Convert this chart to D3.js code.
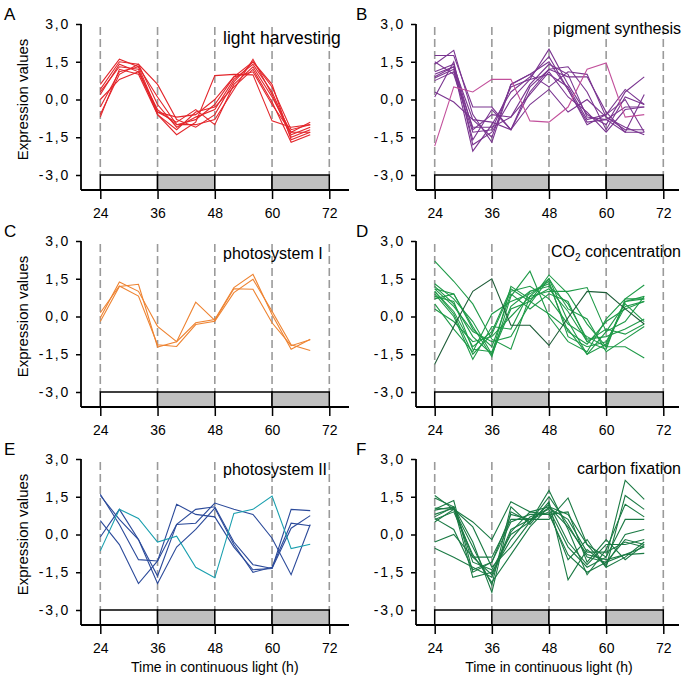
<!DOCTYPE html>
<html>
<head>
<meta charset="utf-8">
<script src="https://d3js.org/d3.v7.min.js"></script>
<style>
  body { margin: 0; background: #fff; }
  svg { font-family: "Liberation Sans", Arial, sans-serif; }
  .axis text { fill: #000; font-size: 14px; }
  .axis line { stroke: #000; stroke-width: 1.5px; }
  .y.axis text { letter-spacing: 1.8px; }
</style>
</head>
<body>
<svg width="690" height="681"></svg>
<script>
// time points (h) of the measurements
var hours = [24, 28, 32, 36, 40, 44, 48, 52, 56, 60, 64, 68];
var xTicks = [24, 36, 48, 60, 72];
var yTicks = [3, 1.5, 0, -1.5, -3];
// light / dark periods shown in the bar under each plot
var phases = [[24, 36, 'light'], [36, 48, 'dark'], [48, 60, 'light'], [60, 72, 'dark']];

// A - light harvesting
var lightHarvesting = [
  [0.6, 1.6, 1.3, 0.1, -1.0, -0.8, -0.2, 0.9, 1.5, 0.5, -1.2, -1.0],
  [0.4, 1.5, 1.4, -0.2, -1.1, -0.7, -0.4, 0.8, 1.4, 0.3, -1.4, -1.1],
  [0.2, 1.4, 1.1, -0.5, -0.9, -0.4, -1.0, 0.6, 1.3, 0.1, -1.3, -0.9],
  [-0.6, 1.0, 1.4, 0.6, -0.8, -1.1, -0.6, 0.7, 1.5, 0.6, -1.6, -1.3],
  [-0.7, 1.2, 1.0, -0.6, -1.4, -0.9, 0.95, 1.0, 0.98, -0.85, -1.1, -1.0],
  [0.3, 1.3, 1.2, -0.6, -1.2, -0.5, -0.3, 0.5, 1.2, -0.1, -1.7, -1.4],
  [0.0, 0.8, 1.1, -0.4, -1.0, -1.0, -0.8, 0.4, 1.6, 0.2, -1.5, -1.2],
  [-0.3, 1.1, 1.3, -0.5, -0.7, -0.6, 0.0, 0.9, 1.1, -0.2, -1.3, -1.3]
];
// B - pigment synthesis (last one is the pink line)
var pigmentSynthesis = [
  [1.75, 1.75, -0.3, -0.3, -1.2, 0.5, 1.2, 0.9, 0.9, -0.5, -1.3, -1.3],
  [1.5, 1.0, -1.3, -1.2, 0.5, 0.8, 2.0, 0.6, -0.6, -1.0, 0.3, 0.9],
  [1.4, 1.95, -0.6, -1.7, 0.6, 1.0, 1.5, 0.4, -0.9, -0.8, -1.3, 0.2],
  [1.0, 1.3, -1.6, -0.4, -1.2, 0.3, 1.2, 1.3, 0.3, -1.2, 0.1, -0.2],
  [0.85, 1.2, -2.05, -1.0, 0.3, 0.9, 1.7, 0.4, -1.0, -0.6, 0.0, -1.3],
  [0.75, 1.1, -1.1, -1.1, -0.7, 0.6, 1.4, 1.0, -0.7, -0.8, -0.3, -0.3],
  [0.1, 1.5, -1.8, -1.3, 0.0, 0.8, 1.0, 0.5, -0.8, -0.6, 0.4, -0.2],
  [0.3, -0.1, -0.8, -1.5, 0.6, 1.0, 0.5, 1.1, 1.0, -0.7, -1.2, -1.2],
  [1.1, 1.4, -1.2, -0.6, -0.7, 0.2, 1.1, 0.1, -0.5, -1.3, -0.4, -0.3],
  [0.9, 1.3, -0.8, -0.9, -1.2, -0.2, 0.4, -0.5, 0.0, -0.7, -1.1, -1.4],
  [-1.85, 0.5, 0.3, 0.8, 0.8, -0.85, -0.9, -0.3, 1.2, 1.45, -0.7, -0.6]
];
// C - photosystem I
var photosystemI = [
  [-0.05, 1.37, 1.0, -0.39, -1.0, 0.57, -0.15, 1.1, 1.08, -0.25, -1.16, -0.92],
  [-0.2, 1.19, 1.28, -1.21, -1.0, -0.25, -0.12, 1.15, 1.68, 0.08, -1.3, -0.9],
  [0.15, 1.21, 0.81, -1.12, -1.19, -0.32, -0.19, 0.95, 1.48, 0.21, -1.12, -1.35]
];
// D - CO2 concentration (last one is the dark line)
var co2Concentration = [
  [2.2, 1.4, 0.5, -0.9, -1.3, 0.8, 1.5, -0.2, -1.5, -1.1, 0.6, 0.8],
  [1.2, 0.5, -0.8, -1.5, 1.2, 0.7, 1.1, 0.2, -1.0, -1.3, 0.7, 1.25],
  [1.1, 0.9, -0.4, -1.6, 0.8, 1.8, 0.0, -1.0, -1.4, -0.1, 0.7, 0.7],
  [1.0, 0.2, -1.2, -0.6, 1.1, 0.6, 1.65, 0.9, -0.3, -1.2, -1.2, -1.65],
  [0.9, 0.0, -1.7, -0.4, -0.5, 1.0, 1.3, -0.6, -1.1, -0.2, 0.3, 0.6],
  [0.8, 0.6, -1.3, -1.4, 0.4, 1.0, 1.2, 0.5, -0.9, -0.8, -0.5, -0.1],
  [0.5, -0.5, -1.4, 0.1, 0.6, 0.9, 1.4, -0.8, -1.2, -1.0, 0.4, 0.6],
  [0.3, -0.2, -1.0, -0.8, 0.0, 0.8, 1.0, 1.0, 1.15, -0.6, -0.2, 0.8],
  [1.3, 0.7, -0.2, -1.5, 0.3, 0.6, 0.1, -0.5, -1.5, -0.6, 0.5, -0.2],
  [1.1, 0.4, -0.6, -1.0, -0.8, 0.5, 1.5, 0.3, -0.1, -1.4, -0.9, -0.4],
  [0.7, 0.9, -0.5, -1.2, 0.9, 0.3, 0.9, 0.6, -1.0, -0.5, -0.7, -0.3],
  [1.0, 0.1, -1.5, -0.7, 1.0, 1.2, 0.7, -0.3, -0.8, -1.2, 0.6, 0.7],
  [-1.9, -0.4, 1.0, 1.5, -0.35, -0.35, -1.15, -0.05, 1.0, 0.95, 0.3, -0.3]
];
// E - photosystem II (last one is the teal line)
var photosystemII = [
  [1.6, 0.4, -1.0, -1.05, 1.2, 0.8, 0.7, -0.5, -1.4, -1.35, 1.0, 0.95],
  [1.55, 0.6, -0.2, -1.65, 0.4, 0.45, 1.25, 1.0, 0.8, -0.15, -1.6, 0.4],
  [0.55, -0.4, -1.95, -1.05, 0.4, 1.0, 1.1, -0.3, -1.2, -1.35, 0.25, 0.75],
  [-0.1, 1.0, -0.2, -1.95, -0.5, 0.2, 1.05, -0.4, -1.5, -1.3, 0.45, 0.35],
  [-0.65, 1.0, 0.64, -0.3, -0.07, -1.3, -1.72, 0.84, 1.0, 1.53, -0.56, -0.39]
];
// F - carbon fixation
var carbonFixation = [
  [1.55, 1.0, 0.5, -0.2, 1.3, 0.9, 1.1, 0.8, -0.4, -0.9, 2.15, 1.4],
  [1.0, 1.35, -1.5, -1.1, 0.8, 0.6, 0.6, 1.45, -0.4, -1.3, 1.55, 1.0],
  [0.97, 1.1, -0.3, -2.3, 0.9, 0.5, 1.75, 0.2, -1.6, -0.6, 1.2, 0.7],
  [0.7, 1.1, -1.7, -1.5, -0.2, 0.7, 1.0, -0.5, -1.3, -0.9, 0.6, 0.6],
  [0.64, 0.2, -1.4, -1.1, 0.5, 0.8, 0.8, 0.9, -1.1, -0.2, -1.0, -0.4],
  [0.5, 1.0, -0.5, -2.0, 1.1, 0.4, 1.3, -1.8, -0.6, -1.2, 0.0, 0.2],
  [-0.3, 0.0, -0.9, -1.6, 0.2, 0.6, 1.05, 0.6, -0.7, -0.7, -0.3, -0.5],
  [-0.55, -0.9, -1.3, -1.7, 0.1, 0.9, 0.8, -0.8, -1.5, -1.1, -0.8, -0.75],
  [1.05, 1.0, 0.3, -1.3, -0.5, 0.5, 1.5, 0.4, -0.9, -1.1, -0.2, -0.4],
  [0.8, 1.05, -0.9, -0.9, 0.6, 0.6, 0.9, -1.0, -0.2, -1.3, -0.9, -0.3],
  [1.45, 1.1, -1.1, -1.4, 0.0, 0.5, 1.2, -0.3, -1.2, -0.4, -0.4, -0.2],
  [0.6, 0.9, -0.8, -1.9, -0.8, 0.3, 1.1, 0.3, -0.8, -1.0, -0.8, -0.5]
];

var svg = d3.select('svg');

// layout of the 3x2 grid
var cols = [
  {axisX: 81, x0: 100.3, x1: 329.3, end: 349, letterX: 4},
  {axisX: 416, x0: 434.7, x1: 663.3, end: 679, letterX: 356}
];
var rows = [24, 241, 459];

var panels = [
  {letter: 'A', title: 'light harvesting', data: lightHarvesting, col: 0, row: 0, titleDy: 19.5, titleSize: 17.5,
   color: function (i) { return '#e3262b'; }},
  {letter: 'B', title: 'pigment synthesis', data: pigmentSynthesis, col: 1, row: 0, titleDy: 9.5, titleSize: 16,
   color: function (i) { return i === 10 ? '#c2509b' : '#7a3590'; }},
  {letter: 'C', title: 'photosystem I', data: photosystemI, col: 0, row: 1, titleDy: 18, titleSize: 16,
   color: function (i) { return '#ee8331'; }},
  {letter: 'D', title: 'CO2', data: co2Concentration, col: 1, row: 1, titleDy: 15.5, titleSize: 16,
   color: function (i) { return i === 12 ? '#1e5c38' : '#1f9a48'; }},
  {letter: 'E', title: 'photosystem II', data: photosystemII, col: 0, row: 2, titleDy: 16, titleSize: 16,
   color: function (i) { return i === 4 ? '#199fae' : '#2b4a9a'; }},
  {letter: 'F', title: 'carbon fixation', data: carbonFixation, col: 1, row: 2, titleDy: 15.3, titleSize: 16,
   color: function (i) { return '#1b7a44'; }}
];

var fmt = function (d) { return (d < 0 ? '-' : '') + Math.abs(d).toFixed(1).replace('.', ','); };

panels.forEach(function (p) {
  var c = cols[p.col];
  var top = rows[p.row];
  var bottom = top + 151;       // y of -3,0
  var axisY = bottom + 15;      // the x axis line

  var x = d3.scaleLinear().domain([24, 72]).range([c.x0, c.x1]);
  var y = d3.scaleLinear().domain([-3, 3]).range([bottom, top]);

  var g = svg.append('g');

  // dashed guide lines
  g.selectAll('.guide').data(xTicks).enter().append('line')
    .attr('x1', function (d) { return x(d); })
    .attr('x2', function (d) { return x(d); })
    .attr('y1', top + 3)
    .attr('y2', bottom)
    .attr('stroke', '#9a9a9a')
    .attr('stroke-width', 1.6)
    .attr('stroke-dasharray', '8,4');

  // expression profiles
  var line = d3.line()
    .x(function (d, i) { return x(hours[i]); })
    .y(function (d) { return y(d); });

  g.selectAll('.profile').data(p.data).enter().append('path')
    .attr('d', line)
    .attr('fill', 'none')
    .attr('stroke', function (d, i) { return p.color(i); })
    .attr('stroke-width', 1.1);

  // light / dark bar
  g.selectAll('.phase').data(phases).enter().append('rect')
    .attr('x', function (d) { return x(d[0]); })
    .attr('y', bottom)
    .attr('width', function (d) { return x(d[1]) - x(d[0]); })
    .attr('height', axisY - bottom)
    .attr('fill', function (d) { return d[2] === 'dark' ? '#c0c0c0' : '#fff'; })
    .attr('stroke', '#000')
    .attr('stroke-width', 1.5);

  // y axis
  var ya = g.append('g')
    .attr('class', 'y axis')
    .attr('transform', 'translate(' + c.axisX + ',0)')
    .call(d3.axisLeft(y).tickValues(yTicks).tickSize(5).tickPadding(6).tickFormat(fmt));
  ya.select('.domain').remove();
  g.append('line')
    .attr('x1', c.axisX).attr('x2', c.axisX)
    .attr('y1', top).attr('y2', axisY)
    .attr('stroke', '#000').attr('stroke-width', 1.8);

  // x axis
  var xa = g.append('g')
    .attr('class', 'x axis')
    .attr('transform', 'translate(0,' + axisY + ')')
    .call(d3.axisBottom(x).tickValues(xTicks).tickSize(9).tickSizeOuter(0).tickPadding(9));
  xa.select('.domain').remove();
  g.append('line')
    .attr('x1', c.axisX).attr('x2', c.end)
    .attr('y1', axisY).attr('y2', axisY)
    .attr('stroke', '#000').attr('stroke-width', 1.8);

  // panel letter
  g.append('text')
    .attr('x', c.letterX)
    .attr('y', top - 4)
    .style('font-size', '17px')
    .text(p.letter);

  // panel title
  var t = g.append('text')
    .attr('y', top + p.titleDy)
    .style('font-size', p.titleSize + 'px');
  if (p.col === 0) {
    t.attr('x', 223).attr('text-anchor', 'start');
  } else {
    t.attr('x', 681).attr('text-anchor', 'end');
  }
  if (p.title === 'CO2') {
    t.append('tspan').text('CO');
    t.append('tspan').attr('dy', 4).style('font-size', '10px').text('2');
    t.append('tspan').attr('dy', -4).text(' concentration');
  } else {
    t.text(p.title);
  }

  if (p.col === 0) {
    g.append('text')
      .attr('transform', 'translate(28,' + y(0) + ') rotate(-90)')
      .attr('text-anchor', 'middle')
      .style('font-size', '15px')
      .text('Expression values');
  }
  if (p.row === 2) {
    g.append('text')
      .attr('x', (x(24) + x(72)) / 2)
      .attr('y', axisY + 47)
      .attr('text-anchor', 'middle')
      .style('font-size', '14px')
      .text('Time in continuous light (h)');
  }
});
</script>
</body>
</html>
